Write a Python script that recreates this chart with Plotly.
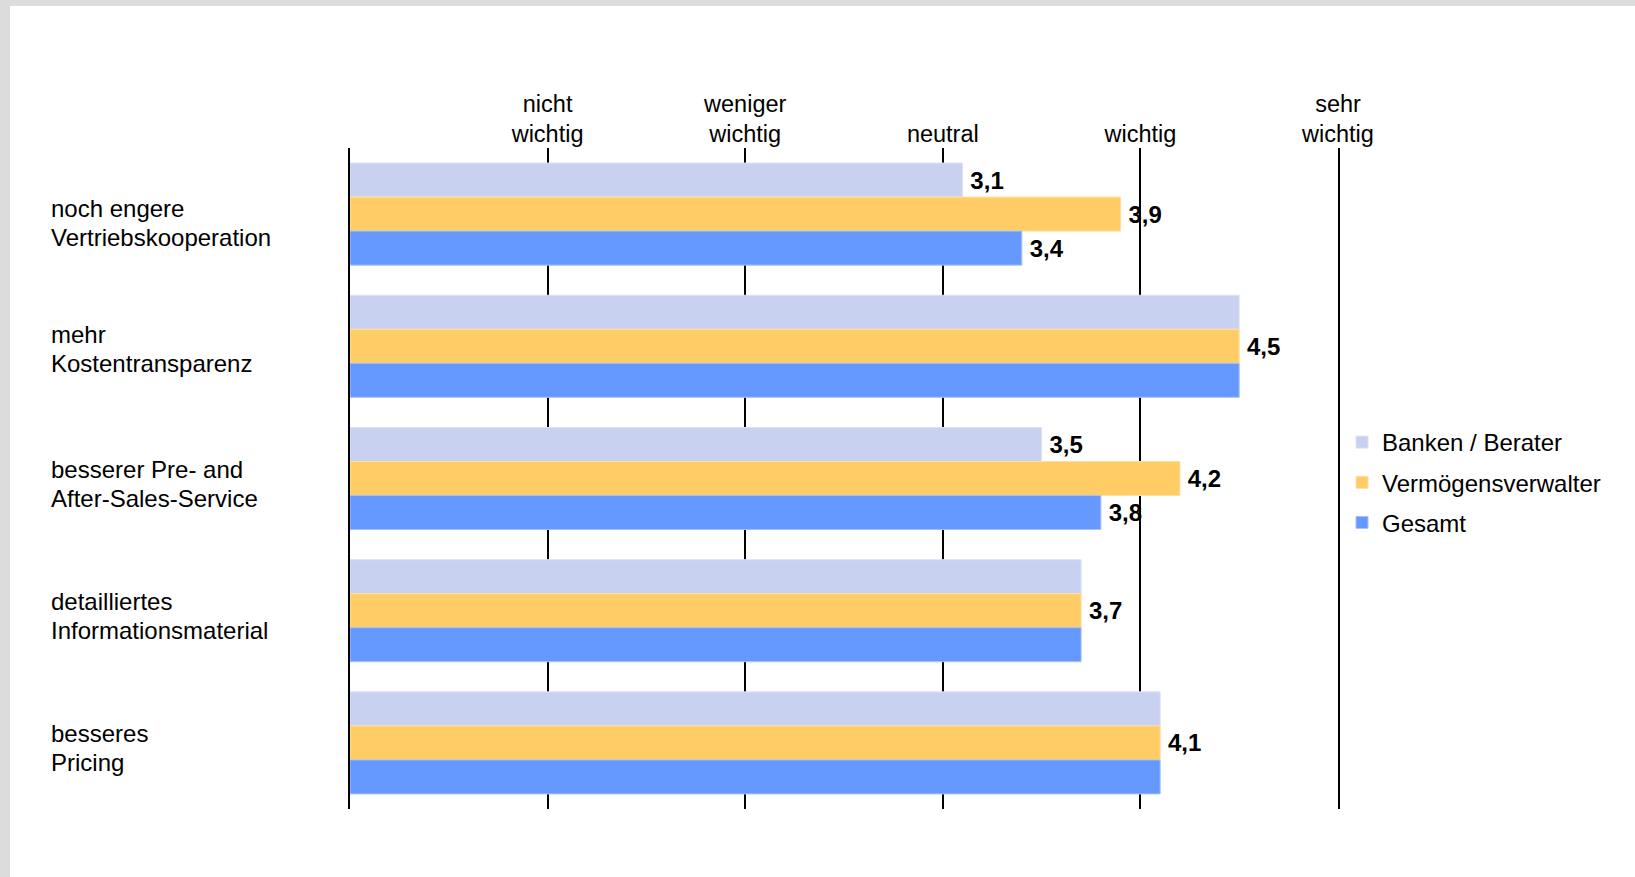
import plotly.graph_objects as go

# Categories (top to bottom) and mean ratings per respondent group
categories = [
    "noch engere<br>Vertriebskooperation",
    "mehr<br>Kostentransparenz",
    "besserer Pre- and<br>After-Sales-Service",
    "detailliertes<br>Informationsmaterial",
    "besseres<br>Pricing",
]
banken = [3.1, 4.5, 3.5, 3.7, 4.1]
vermoegen = [3.9, 4.5, 4.2, 3.7, 4.1]
gesamt = [3.4, 4.5, 3.8, 3.7, 4.1]

scale_vals = [1, 2, 3, 4, 5]
scale_text = ["nicht<br>wichtig", "weniger<br>wichtig", "neutral", "wichtig", "sehr<br>wichtig"]

series = [
    ("Banken / Berater", banken, "#C8D1EF", "#DCE2F6"),
    ("Vermögensverwalter", vermoegen, "#FFCC66", "#FFE0A0"),
    ("Gesamt", gesamt, "#6699FF", "#A3C2FF"),
]

W, H = 1635, 877
L, R, T, B = 350, 297, 148, 68
pw, ph = W - L - R, H - T - B

FONT = "Liberation Sans, Arial, sans-serif"


def label_texts(vals, idx):
    # when all three groups agree, only the middle bar carries the value
    out = []
    for i, v in enumerate(vals):
        same = banken[i] == vermoegen[i] == gesamt[i]
        if same and idx != 1:
            out.append("")
        else:
            out.append("\u2009" + f"{v:.1f}".replace(".", ","))
    return out


fig = go.Figure()
for idx, (name, vals, col, edge) in enumerate(series):
    fig.add_trace(go.Bar(
        name=name,
        y=categories,
        x=vals,
        orientation="h",
        marker=dict(color=col, line=dict(color=edge, width=1)),
        text=label_texts(vals, idx),
        textposition="outside",
        textfont=dict(family=FONT, size=24, color="#000000", weight="bold"),
        cliponaxis=False,
        legendgroup=name,
    ))

# left-aligned category labels, one annotation per text line
label_shift = [-9, -3, -5, -5, -5]
line_gap = 29
for i, c in enumerate(categories):
    lines = c.split("<br>")
    n = len(lines)
    for j, ln in enumerate(lines):
        fig.add_annotation(
            x=(49 - L) / pw, xref="paper", xanchor="left",
            y=c, yref="y", yanchor="middle",
            yshift=label_shift[i] - (j - (n - 1) / 2) * line_gap,
            text=ln, align="left", showarrow=False,
            font=dict(family=FONT, size=24, color="#000000"),
        )

# white page on a grey frame
fig.add_shape(
    type="rect", xref="paper", yref="paper", layer="below",
    x0=(10 - L) / pw, x1=1.5, y0=-0.3, y1=(H - B - 6) / ph,
    fillcolor="#FFFFFF", line=dict(width=0),
)

fig.update_layout(
    width=W, height=H,
    margin=dict(l=L, r=R, t=T, b=B),
    paper_bgcolor="#DCDCDC",
    plot_bgcolor="#FFFFFF",
    barmode="group",
    bargap=0.228,
    bargroupgap=0,
    font=dict(family=FONT, size=23, color="#000000"),
    showlegend=True,
    legend=dict(
        x=(1342 - L) / pw, xanchor="left",
        y=(H - B - 420) / ph, yanchor="top",
        bgcolor="rgba(0,0,0,0)",
        font=dict(family=FONT, size=24, color="#000000"),
        tracegroupgap=6,
        traceorder="grouped",
    ),
    xaxis=dict(
        side="top", range=[0, 5],
        tickvals=scale_vals, ticktext=scale_text,
        showgrid=True, gridcolor="#000000", gridwidth=2,
        zeroline=False, showline=False, ticks="",
        tickfont=dict(family=FONT, size=23.5, color="#000000"),
    ),
    yaxis=dict(
        autorange="reversed",
        showticklabels=False, ticks="",
        showline=True, mirror=True, linecolor="#000000", linewidth=2,
        showgrid=False, zeroline=False,
    ),
)

fig.write_html("out.html")
